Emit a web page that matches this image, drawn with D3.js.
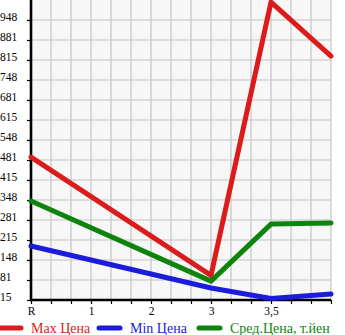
<!DOCTYPE html>
<html><head><meta charset="utf-8">
<script src="https://cdn.jsdelivr.net/npm/d3@7"></script>
<style>body{margin:0;background:#fff}svg{display:block}</style>
</head><body><svg id="c" width="345" height="335"></svg>
<script>
const categories = ["R","1","2","3","3,5"];
const pointX = [0, 3, 4, 5];
const maxPrice = [491, 97, 1008, 828];
const minPrice = [195, 55, 20, 35];
const avgPrice = [345, 78, 268, 272];
const yTickLabels = ["15","81","148","215","281","348","415","481","548","615","681","748","815","881","948"];
const legendLabels = ["Max Цена","Min Цена","Сред.Цена, т.йен"];
const colors = ["#dc1c1c","#1c1cdc","#0e840e"];

const svg = d3.select("#c");
const font = "Liberation Serif";
const x = d3.scaleLinear().domain([0,5]).range([31,331]);
const y = d3.scaleLinear().domain([15,1015]).range([300,0]);

svg.append("rect").attr("x",31).attr("y",0).attr("width",300).attr("height",300).attr("fill","#f7f7f7");

const xGrid = d3.range(1,16).map(i=>i/3);
const yTicks = yTickLabels.map((_,i)=>15+i*1000/15);
svg.append("g").selectAll("line").data(xGrid).join("line")
  .attr("x1",d=>x(d)).attr("x2",d=>x(d)).attr("y1",0).attr("y2",300)
  .attr("stroke","#c4c4c4").attr("stroke-width",1.2);
svg.append("g").selectAll("line").data(yTicks.slice(1)).join("line")
  .attr("x1",31).attr("x2",331).attr("y1",d=>y(d)).attr("y2",d=>y(d))
  .attr("stroke","#c4c4c4").attr("stroke-width",1.2);

const yAxis = d3.axisLeft(y).tickValues(yTicks).tickSize(4).tickFormat((d,i)=>yTickLabels[i]);
const gy = svg.append("g").attr("transform","translate(31,0)").call(yAxis);
gy.select(".domain").remove();
gy.selectAll(".tick line").attr("stroke","#000").attr("stroke-width",1.2);
gy.selectAll(".tick text").attr("x",-31).attr("dy","0.05em").attr("text-anchor","start")
  .attr("font-family",font).attr("font-size",11.5).attr("fill","#000");

const xAxis = d3.axisBottom(x).tickValues(d3.range(0,16).map(i=>i/3)).tickSize(4)
  .tickFormat((d,i)=> (i%3===0 && categories[i/3]!==undefined) ? categories[i/3] : "");
const gx = svg.append("g").attr("transform","translate(0,300)").call(xAxis);
gx.select(".domain").remove();
gx.selectAll(".tick line").attr("stroke","#000").attr("stroke-width",1.2);
gx.selectAll(".tick text").attr("y",7).attr("dy","0.71em")
  .attr("font-family",font).attr("font-size",11.5).attr("fill","#000");

svg.append("line").attr("x1",31).attr("x2",31).attr("y1",0).attr("y2",301).attr("stroke","#000").attr("stroke-width",2.6);
svg.append("line").attr("x1",30).attr("x2",331).attr("y1",300).attr("y2",300).attr("stroke","#000").attr("stroke-width",2.6);

const line = d3.line().x((d,i)=>x(pointX[i])).y(d=>y(d));
[maxPrice,minPrice,avgPrice].forEach((s,k)=>{
  svg.append("path").attr("d",line(s)).attr("fill","none").attr("stroke",colors[k])
    .attr("stroke-width",5).attr("stroke-linejoin","round").attr("stroke-linecap","round");
});

const legX = [0, 99, 199];
const lg = svg.append("g");
legendLabels.forEach((t,k)=>{
  lg.append("line").attr("x1",legX[k]).attr("x2",legX[k]+21).attr("y1",328).attr("y2",328)
    .attr("stroke",colors[k]).attr("stroke-width",5).attr("stroke-linecap","round");
  lg.append("text").attr("x",legX[k]+31).attr("y",332.5).text(t)
    .attr("font-family",font).attr("font-size",14).attr("fill",colors[k]);
});
</script></body></html>
